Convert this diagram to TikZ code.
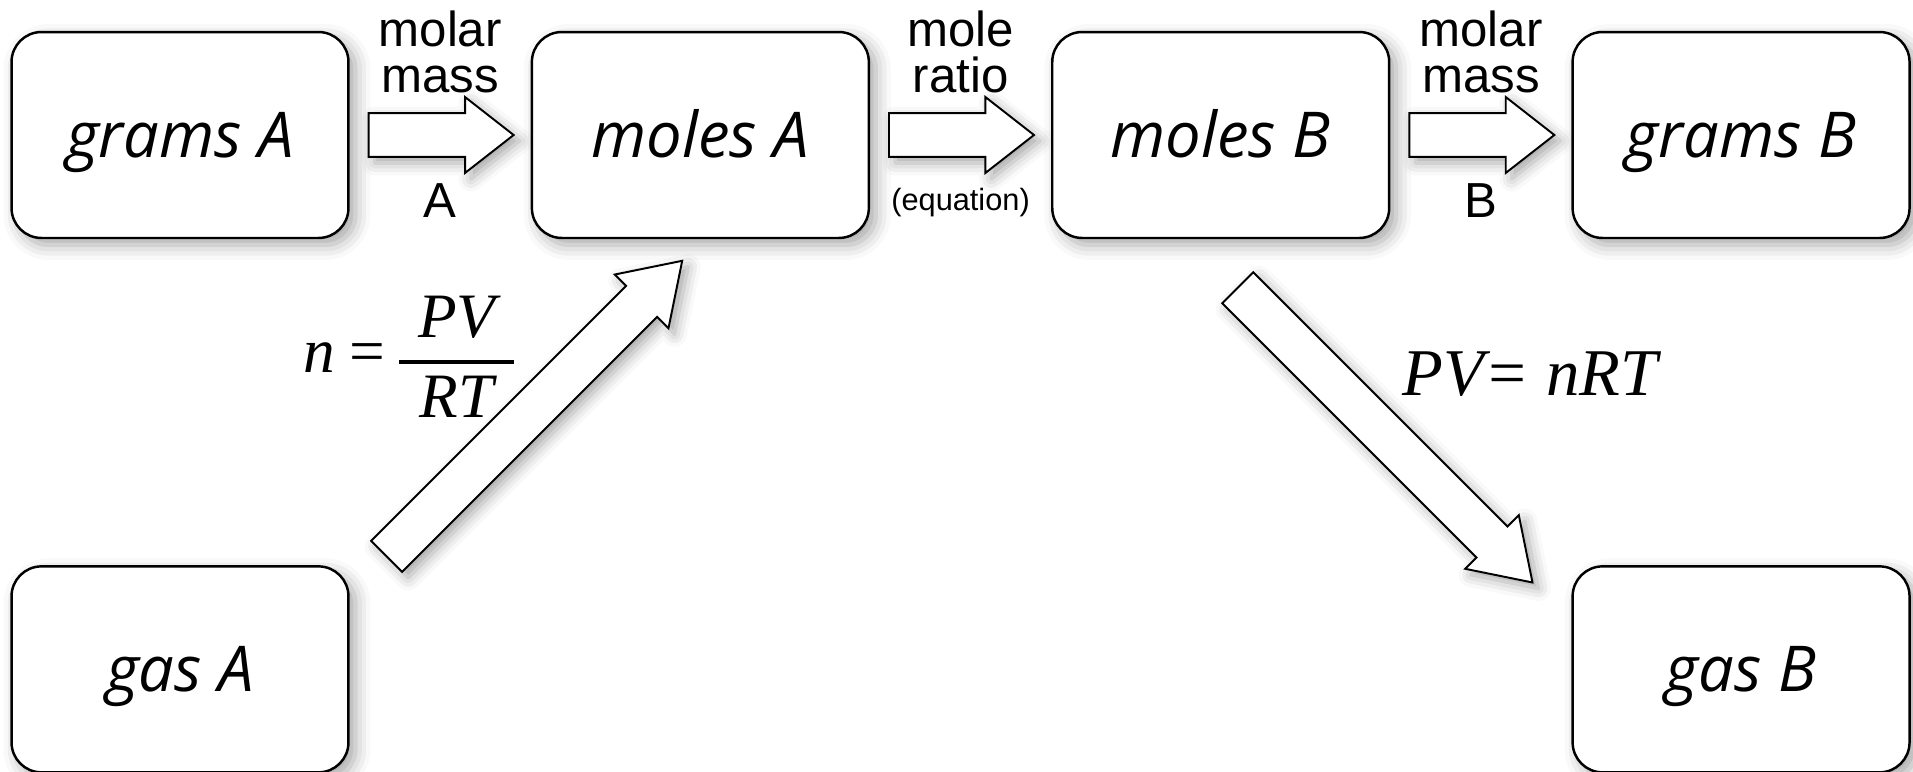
\documentclass[tikz,border=0pt]{standalone}
\usepackage{fontspec}
\newfontfamily\boxfont{Open Sans}
\newfontfamily\lblfont{Liberation Sans}
\newfontfamily\eqfont{Liberation Serif}
\usetikzlibrary{positioning,calc,shapes.arrows,shadows.blur}

\tikzset{
  qty/.style={draw, line width=1.4pt, rounded corners=0.6cm, fill=white,
    minimum width=6.74cm, minimum height=4.12cm, inner sep=0pt,
    text height=0.9cm, text depth=0pt,
    font=\boxfont\itshape\fontsize{36}{40}\selectfont,
    blur shadow={shadow xshift=0.14cm, shadow yshift=-0.14cm, shadow blur radius=0.3cm, shadow opacity=35}},
  fatarrow/.style={single arrow, draw, line width=1.1pt, fill=white, anchor=tail,
    inner xsep=0pt, inner ysep=0.42cm, text height=0pt, text depth=0pt,
    minimum width=1.48cm, minimum height=2.9cm, single arrow head extend=0.32cm,
    single arrow tip angle=76, single arrow head indent=0pt,
    blur shadow={shadow xshift=0.12cm, shadow yshift=-0.12cm, shadow blur radius=0.25cm, shadow opacity=35}},
  lbl/.style={font=\lblfont\fontsize{28}{26}\selectfont, align=center, inner sep=0pt},
  eq/.style={font=\eqfont\itshape\fontsize{36}{44}\selectfont, inner sep=0pt}
}

\begin{document}
\begin{tikzpicture}[x=0.02cm, y=-0.02cm]
        \useasboundingbox (0,0) rectangle (1913,771);
        \node[qty] (gramsA) at (180,135) {grams A};
        \node[qty, right=3.62cm of gramsA] (molesA) {moles A};
        \node[qty, right=3.62cm of molesA] (molesB) {moles B};
        \node[qty, right=3.62cm of molesB] (gramsB) {grams B};
        \node[qty, below=6.52cm of gramsA] (gasA) {gas A};
        \node[qty, below=6.52cm of gramsB] (gasB) {gas B};

        \node[fatarrow] (mmA) at ([xshift=0.36cm]gramsA.east) {};
        \node[fatarrow] (ratio) at ([xshift=0.36cm]molesA.east) {};
        \node[fatarrow] (mmB) at ([xshift=0.36cm]molesB.east) {};
        \node[fatarrow, minimum height=8.36cm, single arrow tip angle=67, rotate=45] (toA) at (386,557) {};
        \node[fatarrow, minimum height=8.34cm, single arrow tip angle=67, rotate=-45] (toB) at (1237,287) {};

        \node[lbl, anchor=south] (mmAtop) at ([xshift=1.45cm,yshift=0.84cm]mmA.tail) {molar\\mass};
        \node[lbl, anchor=north] (mmAbot) at ([xshift=1.45cm,yshift=-0.96cm]mmA.tail) {A};
        \node[lbl, anchor=south] (ratiotop) at ([xshift=1.45cm,yshift=0.84cm]ratio.tail) {mole\\ratio};
        \node[lbl, font=\lblfont\fontsize{17.5}{20}\selectfont] (ratiobot) at ([xshift=1.45cm,yshift=-1.36cm]ratio.tail) {(equation)};
        \node[lbl, anchor=south] (mmBtop) at ([xshift=1.45cm,yshift=0.84cm]mmB.tail) {molar\\mass};
        \node[lbl, anchor=north] (mmBbot) at ([xshift=1.45cm,yshift=-0.96cm]mmB.tail) {B};

        \node[eq] (idealA) at (409,362) {n\,=\,\setlength\arrayrulewidth{1.8pt}%
          \begin{tabular}{@{}c@{}}\makebox[2.3cm]{PV}\\\hline RT\end{tabular}};
        \node[eq, anchor=base, font=\eqfont\itshape\fontsize{38}{44}\selectfont] (idealB) at (1530,395) {PV= nRT};
    \end{tikzpicture}
\end{document}
